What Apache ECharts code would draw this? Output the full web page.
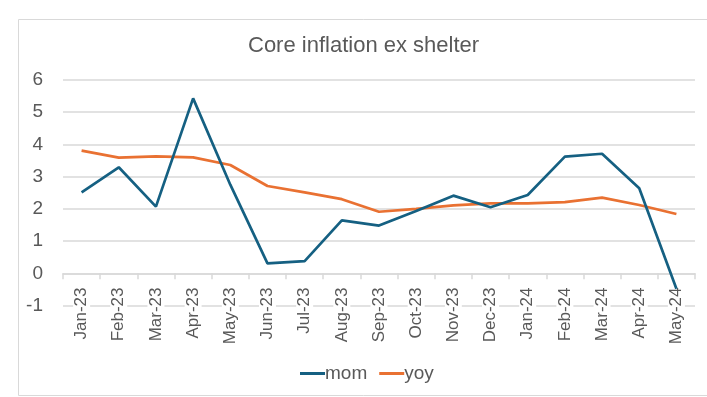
<!DOCTYPE html>
<html>
<head>
<meta charset="utf-8">
<script src="https://cdn.jsdelivr.net/npm/echarts@6/dist/echarts.min.js"></script>
<style>
  html, body { margin: 0; padding: 0; background: #fff; }
  #chart { width: 707px; height: 397px; }
</style>
</head>
<body>
<div id="chart"></div>
<script>
// months on the category axis
const months = ['Jan-23', 'Feb-23', 'Mar-23', 'Apr-23', 'May-23', 'Jun-23', 'Jul-23', 'Aug-23',
  'Sep-23', 'Oct-23', 'Nov-23', 'Dec-23', 'Jan-24', 'Feb-24', 'Mar-24', 'Apr-24', 'May-24']
// month over month, annualised
const mom = [2.51, 3.29, 2.07, 5.43, 2.75, 0.31, 0.38, 1.64, 1.48, 1.93, 2.41, 2.05, 2.43, 3.62, 3.71, 2.64, -0.48]
// year over year
const yoy = [3.81, 3.59, 3.63, 3.6, 3.36, 2.71, 2.51, 2.3, 1.91, 2.0, 2.11, 2.17, 2.17, 2.21, 2.35, 2.12, 1.84]

const chart = echarts.init(document.getElementById('chart'))
const textColor = '#595959'
const gridColor = '#d9d9d9'
const font = 'Liberation Sans'

const options = {
  animation: false,
  textStyle: { fontFamily: font },
  title: {
    text: 'Core inflation ex shelter',
    left: 243,
    top: 30,
    textStyle: { fontFamily: font, fontSize: 22, fontWeight: 'normal', color: textColor }
  },
  graphic: [{
    type: 'rect',
    shape: { x: 18.5, y: 19.5, width: 700, height: 376 },
    style: { fill: 'none', stroke: gridColor, lineWidth: 1 },
    silent: true
  }],
  grid: { left: 63, right: 12, top: 80, bottom: 91.5 },
  legend: {
    top: 359,
    left: 295,
    icon: 'rect',
    itemWidth: 25,
    itemHeight: 3,
    itemGap: 12,
    textStyle: { fontFamily: font, fontSize: 19, color: textColor, padding: [0, 0, 0, -5] },
    data: ['mom', 'yoy']
  },
  xAxis: {
    type: 'category',
    data: months,
    boundaryGap: true,
    axisLine: { onZero: true, lineStyle: { color: gridColor, width: 1.5 } },
    axisTick: { show: true, length: 6, lineStyle: { color: gridColor, width: 1.5 } },
    axisLabel: {
      rotate: 90, fontSize: 17, color: textColor, margin: -18, fontFamily: font,
      backgroundColor: '#fff'
    }
  },
  yAxis: {
    type: 'value',
    min: -1,
    max: 6,
    interval: 1,
    axisLine: { show: false },
    axisTick: { show: false },
    axisLabel: { fontSize: 19, color: textColor, margin: 20, fontFamily: font },
    splitLine: { lineStyle: { color: gridColor, width: 1.5 } }
  },
  series: [
    {
      name: 'mom',
      type: 'line',
      data: mom,
      symbol: 'none',
      z: 3,
      lineStyle: { color: '#156082', width: 2.7 },
      itemStyle: { color: '#156082' }
    },
    {
      name: 'yoy',
      type: 'line',
      data: yoy,
      symbol: 'none',
      z: 2,
      lineStyle: { color: '#E97132', width: 2.7 },
      itemStyle: { color: '#E97132' }
    }
  ]
}

chart.setOption(options)
</script>
</body>
</html>
